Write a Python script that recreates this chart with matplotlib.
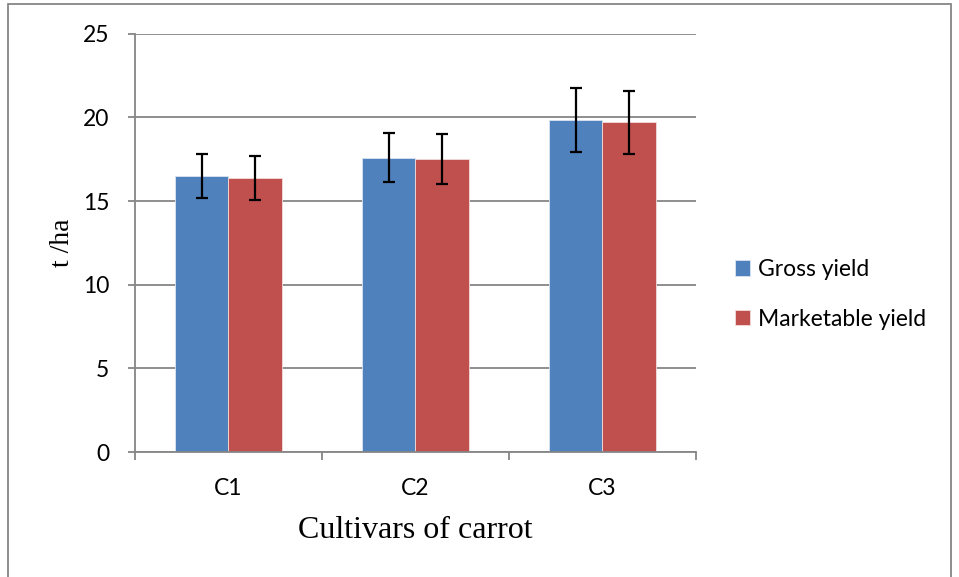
import numpy as np
import matplotlib
matplotlib.use("Agg")
import matplotlib.pyplot as plt
from matplotlib.patches import Rectangle

cultivars = ["C1", "C2", "C3"]
gross = [16.5, 17.6, 19.85]
gross_err = [1.32, 1.48, 1.9]
market = [16.4, 17.5, 19.7]
market_err = [1.32, 1.48, 1.9]
yticks = [0, 5, 10, 15, 20, 25]

blue = "#4F81BD"
red = "#C0504D"
grey = "#868686"
tick_font = "Lato"
lab_font = "Liberation Serif"

fig = plt.figure(figsize=(9.59, 5.77), dpi=100)
ax = fig.add_axes([0.1408, 0.2166, 0.5846, 0.725])

x = np.arange(len(cultivars))
w = 1 / 3.5
ekw = dict(ecolor="black", elinewidth=1.6, capsize=4.6, capthick=1.6)
ax.bar(x - w / 2, gross, w, color=blue, edgecolor="#dbe5f1", linewidth=0.6,
       yerr=gross_err, error_kw=ekw, label="Gross yield", zorder=2)
ax.bar(x + w / 2, market, w, color=red, edgecolor="#f2dcdb", linewidth=0.6,
       yerr=market_err, error_kw=ekw, label="Marketable yield", zorder=2)

ax.set_xlim(-0.5, 2.5)
ax.set_ylim(0, 25)
ax.set_yticks(yticks)
ax.yaxis.grid(True, color=grey, linewidth=1.3, zorder=0)
ax.set_axisbelow(True)

for s in ["top", "right"]:
    ax.spines[s].set_visible(False)
for s in ["left", "bottom"]:
    ax.spines[s].set_color(grey)
    ax.spines[s].set_linewidth(1.3)

ax.set_xticks(x)
ax.set_xticklabels(cultivars)
ax.set_xticks([-0.5, 0.5, 1.5, 2.5], minor=True)
ax.tick_params(axis="x", which="major", length=0, pad=19, labelsize=16.5)
ax.tick_params(axis="x", which="minor", length=5.4, width=1.3, color=grey)
ax.tick_params(axis="y", length=5.4, width=1.3, color=grey, pad=13, labelsize=16.5)
for t in ax.get_xticklabels() + ax.get_yticklabels():
    t.set_fontfamily(tick_font)

ax.set_xlabel("Cultivars of carrot", fontsize=23, family=lab_font, labelpad=12)
ax.set_ylabel("t /ha", fontsize=20, family=lab_font, labelpad=6)

leg = fig.legend(loc="center left", bbox_to_anchor=(0.745, 0.49),
                 frameon=False, prop={"family": tick_font, "size": 16.5},
                 handlelength=0.65, handleheight=0.65, handletextpad=0.35,
                 labelspacing=1.25)

fig.patches.append(Rectangle((8 / 959, -0.01), 943 / 959, 1 - 4 / 577 + 0.01,
                             transform=fig.transFigure, fill=False,
                             edgecolor=grey, linewidth=1.3))

fig.savefig("out.png", dpi=100)
